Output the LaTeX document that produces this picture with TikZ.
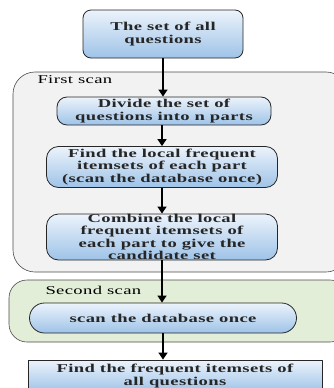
\documentclass[tikz,border=0pt]{standalone}
\usepackage{fontspec}
\setmainfont{Liberation Serif}[FakeStretch=1.55, LetterSpace=3]
\usetikzlibrary{arrows.meta}
\definecolor{boxtop}{RGB}{236,243,251}
\definecolor{boxbot}{RGB}{158,195,232}
\definecolor{scanone}{RGB}{242,242,242}
\definecolor{scantwo}{RGB}{227,238,216}
\tikzset{
  stepbox/.style={draw=black!85, line width=.8pt, rounded corners=8pt,
    top color=boxtop, bottom color=boxbot, align=center, inner sep=0pt,
    text=black!85, font=\bfseries\fontsize{12}{12.5}\selectfont},
  panel/.style={draw=black!70, line width=.6pt, rounded corners=22pt},
  flow/.style={-{Triangle[width=9pt,length=7pt]}, line width=1.4pt}
}
\begin{document}
\begin{tikzpicture}[x=1pt, y=-1pt, line join=round]
\useasboundingbox (0,0) rectangle (333,388);
% the two scan panels
\draw[panel, fill=scanone] (13,72) rectangle (348,272);
\draw[panel, fill=scantwo, rounded corners=18pt] (9,280) rectangle (348,342);
\node[anchor=west, font=\fontsize{12}{12}\selectfont] (first) at (34,80) {First scan};
\node[anchor=west, font=\fontsize{12}{12}\selectfont] (second) at (42,290) {Second scan};
% steps
\node[stepbox, minimum width=160pt, minimum height=48pt] (all) at (163,34) {The set of all\\questions};
\node[stepbox, minimum width=214pt, minimum height=28pt, rounded corners=10pt] (divide) at (164,111) {Divide the set of\\questions into n parts};
\node[stepbox, minimum width=231pt, minimum height=41pt, rounded corners=12pt] (local) at (162,167) {Find the local frequent\\itemsets of each part\\(scan the database once)};
\node[stepbox, minimum width=231pt, minimum height=46pt, rounded corners=12pt] (combine) at (162,237) {Combine the local\\frequent itemsets of\\each part to give the\\candidate set};
\node[stepbox, minimum width=267pt, minimum height=30pt, rounded corners=15pt] (scan) at (163,318) {scan the database once};
\node[stepbox, minimum width=294pt, minimum height=32pt, rounded corners=0pt] (result) at (175,376) {Find the frequent itemsets of\\all questions};
% arrows
\draw[flow] (all.south) -- (all.south |- divide.north);
\draw[flow] (divide.south -| local.north) -- (local.north);
\draw[flow] (local.south) -- (combine.north);
\draw[flow] (combine.south) -- (combine.south |- scan.north);
\draw[flow] (scan.south) -- (scan.south |- result.north);
\end{tikzpicture}
\end{document}
